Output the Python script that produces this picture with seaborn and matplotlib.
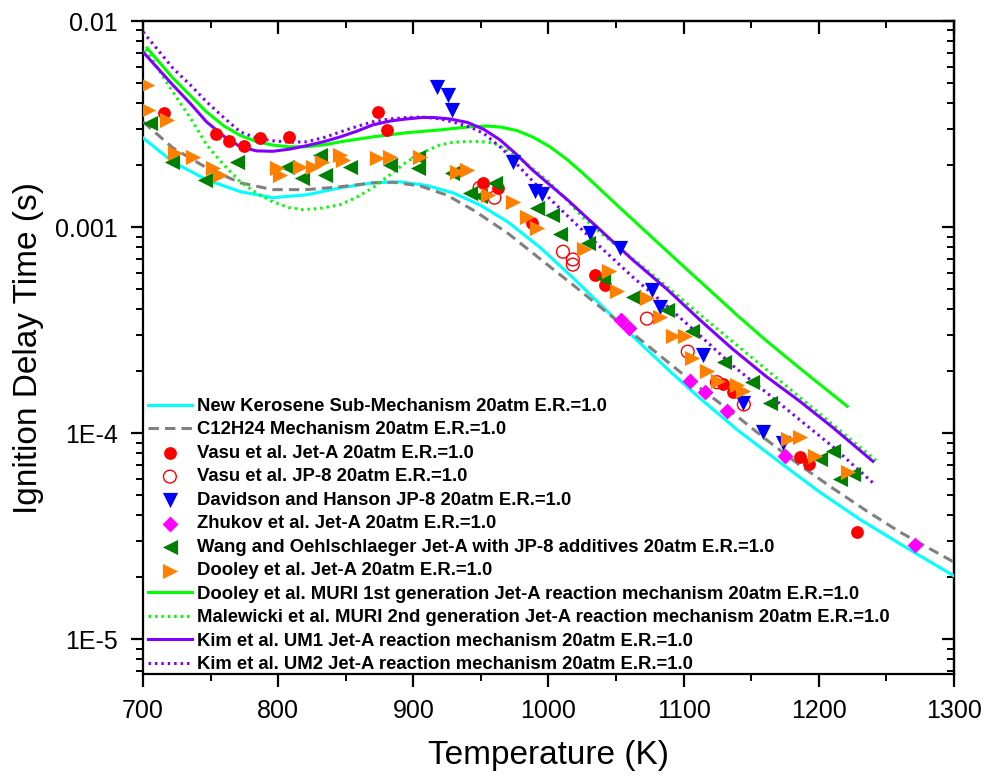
import numpy as np
import pandas as pd
import matplotlib
matplotlib.use("Agg")
import matplotlib.pyplot as plt
import matplotlib.ticker as mticker
import seaborn as sns

# ---------------- data ----------------
# model curves: temperature (K) and log10 of ignition delay time (s)
kero_T = [700, 722, 747, 772, 796, 821, 846, 870, 890, 910, 930, 950, 970, 994, 1018, 1043, 1068, 1092, 1112, 1140, 1171, 1200, 1230, 1265, 1300]
kero_log = [-2.567, -2.683, -2.770, -2.828, -2.857, -2.843, -2.809, -2.785, -2.780, -2.798, -2.835, -2.895, -2.975, -3.100, -3.245, -3.405, -3.565, -3.712, -3.830, -3.985, -4.140, -4.282, -4.416, -4.556, -4.692]

c12_T = [700, 722, 747, 772, 796, 821, 846, 870, 885, 905, 925, 945, 970, 994, 1020, 1050, 1080, 1112, 1140, 1161, 1185, 1210, 1235, 1260, 1300]
c12_log = [-2.489, -2.615, -2.712, -2.785, -2.818, -2.818, -2.804, -2.785, -2.782, -2.800, -2.845, -2.920, -3.030, -3.155, -3.290, -3.450, -3.610, -3.780, -3.920, -4.030, -4.150, -4.265, -4.375, -4.479, -4.625]

muri1_T = [703, 722, 747, 760, 772, 784, 796, 808, 821, 835, 846, 870, 895, 920, 942, 955, 965, 977, 989, 1001, 1013, 1025, 1038, 1051, 1075, 1099, 1120, 1140, 1161, 1186, 1221]
muri1_log = [-2.131, -2.276, -2.441, -2.510, -2.555, -2.585, -2.602, -2.610, -2.610, -2.600, -2.586, -2.562, -2.542, -2.528, -2.513, -2.510, -2.515, -2.532, -2.565, -2.610, -2.668, -2.736, -2.815, -2.895, -3.040, -3.185, -3.310, -3.430, -3.550, -3.685, -3.869]

muri2_T = [702, 722, 735, 747, 760, 772, 784, 796, 808, 818, 830, 846, 858, 870, 883, 895, 908, 920, 930, 940, 950, 959, 968, 977, 989, 1001, 1013, 1025, 1038, 1051, 1075, 1112, 1161, 1210, 1243]
muri2_log = [-2.137, -2.344, -2.470, -2.600, -2.700, -2.780, -2.835, -2.877, -2.905, -2.915, -2.910, -2.891, -2.855, -2.809, -2.745, -2.683, -2.635, -2.600, -2.588, -2.585, -2.585, -2.591, -2.620, -2.659, -2.720, -2.785, -2.865, -2.949, -3.025, -3.094, -3.220, -3.424, -3.690, -3.956, -4.136]

um1_T = [700, 722, 735, 747, 760, 772, 784, 796, 808, 821, 834, 846, 858, 870, 883, 895, 907, 915, 927, 940, 952, 964, 976, 988, 1001, 1014, 1026, 1038, 1062, 1088, 1112, 1136, 1161, 1185, 1210, 1240]
um1_log = [-2.150, -2.310, -2.400, -2.489, -2.560, -2.610, -2.630, -2.632, -2.622, -2.605, -2.585, -2.562, -2.535, -2.504, -2.485, -2.475, -2.468, -2.468, -2.475, -2.492, -2.525, -2.576, -2.645, -2.722, -2.795, -2.867, -2.940, -3.012, -3.157, -3.303, -3.450, -3.590, -3.724, -3.840, -3.970, -4.136]

um2_T = [700, 722, 735, 747, 760, 772, 784, 796, 808, 821, 834, 846, 858, 870, 883, 895, 907, 920, 932, 942, 952, 965, 976, 988, 1001, 1014, 1026, 1038, 1062, 1088, 1112, 1136, 1161, 1185, 1210, 1240]
um2_log = [-2.053, -2.228, -2.310, -2.392, -2.470, -2.538, -2.568, -2.581, -2.588, -2.586, -2.565, -2.538, -2.512, -2.489, -2.475, -2.468, -2.466, -2.475, -2.495, -2.515, -2.545, -2.615, -2.690, -2.775, -2.862, -2.945, -3.020, -3.094, -3.240, -3.385, -3.525, -3.670, -3.801, -3.930, -4.063, -4.240]

# experiments: temperature (K) and ignition delay time (s)
vasuA_T = [715.5, 754, 763.6, 774.7, 786.5, 808, 873.8, 880.5, 951.5, 962.6, 987.7, 1034.3, 1041.7, 1129, 1136.4, 1186, 1193, 1228]
vasuA_t = [3.58e-3, 2.84e-3, 2.62e-3, 2.48e-3, 2.71e-3, 2.74e-3, 3.62e-3, 2.96e-3, 1.64e-3, 1.55e-3, 1.05e-3, 5.89e-4, 5.27e-4, 1.73e-4, 1.58e-4, 7.66e-5, 7.08e-5, 3.32e-5]

vasuJP8_T = [949, 960, 1010.7, 1018, 1018, 1072.8, 1103, 1124.6, 1144.5]
vasuJP8_t = [1.55e-3, 1.39e-3, 7.6e-4, 6.97e-4, 6.58e-4, 3.6e-4, 2.49e-4, 1.77e-4, 1.38e-4]

dav_T = [917.5, 925.6, 928.6, 973.7, 990, 995, 1031, 1052.8, 1076.5, 1082.4, 1114.2, 1143.8, 1158.6, 1173.4]
dav_t = [4.79e-3, 4.38e-3, 3.71e-3, 2.08e-3, 1.50e-3, 1.45e-3, 9.4e-4, 7.96e-4, 4.98e-4, 4.12e-4, 2.39e-4, 1.40e-4, 1.02e-4, 8.95e-5]

zhu_T = [1053.6, 1059.5, 1104.6, 1115.7, 1132, 1174.9, 1271]
zhu_t = [3.56e-4, 3.26e-4, 1.79e-4, 1.58e-4, 1.28e-4, 7.74e-5, 2.87e-5]

wang_T = [705, 721.4, 745.9, 769.5, 806.5, 817.6, 831, 834.6, 853, 882.7, 903.4, 903.4, 928.6, 941.9, 949, 960.4,
          991.4, 1002.5, 1008.4, 1029, 1040, 1062.4, 1087.6, 1106, 1129.7, 1150.4, 1163.8, 1200.7, 1210.4, 1215.5, 1225]
wang_t = [3.21e-3, 2.08e-3, 1.70e-3, 2.08e-3, 1.96e-3, 1.74e-3, 2.25e-3, 1.80e-3, 1.96e-3, 2.01e-3, 2.19e-3, 1.94e-3, 1.84e-3, 1.47e-3, 1.41e-3, 1.64e-3,
          1.24e-3, 1.15e-3, 9.3e-4, 8.4e-4, 5.69e-4, 4.56e-4, 3.98e-4, 3.12e-4, 2.21e-4, 1.77e-4, 1.41e-4, 7.48e-5, 8.18e-5, 5.98e-5, 6.33e-5]

dool_T = [703, 703.7, 717.8, 723.7, 737, 751.8, 757, 799, 801, 816, 825.7, 832.4, 845.7, 848, 873, 882.7, 904.9, 932, 939.6,
          955, 973.7, 984, 991.4, 1026, 1044.7, 1050.6, 1072.8, 1082.4, 1092, 1101, 1106, 1117, 1125.3, 1139.3, 1143.8, 1177, 1186, 1197, 1221.4]
dool_t = [4.9e-3, 3.71e-3, 3.32e-3, 2.30e-3, 2.19e-3, 1.94e-3, 1.80e-3, 1.94e-3, 1.80e-3, 1.96e-3, 1.96e-3, 2.08e-3, 2.25e-3, 2.12e-3, 2.17e-3, 2.19e-3, 2.19e-3, 1.86e-3, 1.90e-3,
          1.44e-3, 1.33e-3, 1.12e-3, 9.96e-4, 7.87e-4, 6.10e-4, 4.88e-4, 4.51e-4, 3.65e-4, 2.95e-4, 2.95e-4, 2.33e-4, 2.0e-4, 1.79e-4, 1.71e-4, 1.60e-4, 9.35e-5, 9.57e-5, 7.74e-5, 6.47e-5]

labels = [
    "New Kerosene Sub-Mechanism 20atm E.R.=1.0",
    "C12H24 Mechanism 20atm E.R.=1.0",
    "Vasu et al. Jet-A 20atm E.R.=1.0",
    "Vasu et al. JP-8 20atm E.R.=1.0",
    "Davidson and Hanson JP-8 20atm E.R.=1.0",
    "Zhukov et al. Jet-A 20atm E.R.=1.0",
    "Wang and Oehlschlaeger Jet-A with JP-8 additives 20atm E.R.=1.0",
    "Dooley et al. Jet-A 20atm E.R.=1.0",
    "Dooley et al. MURI 1st generation Jet-A reaction mechanism 20atm E.R.=1.0",
    "Malewicki et al. MURI 2nd generation Jet-A reaction mechanism 20atm E.R.=1.0",
    "Kim et al. UM1 Jet-A reaction mechanism 20atm E.R.=1.0",
    "Kim et al. UM2 Jet-A reaction mechanism 20atm E.R.=1.0",
]

# ---------------- style ----------------
plt.rcParams['font.family'] = ['Liberation Sans', 'DejaVu Sans']
plt.rcParams['axes.linewidth'] = 1.6

fig = plt.figure(figsize=(9.87, 7.76), dpi=100)
ax = fig.add_axes([143 / 987, 1 - 674 / 776, (954 - 143) / 987, (674 - 21) / 776])

LW = 2.2
def line(T, logt, color, ls, lab):
    df = pd.DataFrame({"T": T, "t": np.power(10.0, logt)})
    sns.lineplot(data=df, x="T", y="t", ax=ax, color=color, lw=LW, linestyle=ls,
                 label=lab, estimator=None, sort=False, zorder=3)

def pts(T, t, marker, color, s, lab, filled=True):
    df = pd.DataFrame({"T": T, "t": t})
    if filled:
        sns.scatterplot(data=df, x="T", y="t", ax=ax, marker=marker, color=color,
                        s=s, linewidth=0, label=lab, zorder=4)
    else:
        sns.scatterplot(data=df, x="T", y="t", ax=ax, marker=marker, color=color,
                        facecolors='none', edgecolor=color, s=s, linewidth=1.0,
                        label=lab, zorder=4)

dash = (0, (3.4, 2.0))
dot = (0, (0.8, 1.3))

pts(vasuA_T, vasuA_t, 'o', '#FF0000', 85, labels[2])
pts(vasuJP8_T, vasuJP8_t, 'o', '#FF0000', 85, labels[3], filled=False)
pts(dav_T, dav_t, 'v', '#0000FF', 120, labels[4])
pts(zhu_T, zhu_t, 'D', '#FF00FF', 65, labels[5])
pts(wang_T, wang_t, '<', '#008000', 120, labels[6])
pts(dool_T, dool_t, '>', '#FF8000', 120, labels[7])

line(kero_T, kero_log, '#00FFFF', '-', labels[0])
line(c12_T, c12_log, '#808080', dash, labels[1])
line(muri1_T, muri1_log, '#00FF00', '-', labels[8])
line(muri2_T, muri2_log, '#00FF00', dot, labels[9])
line(um1_T, um1_log, '#8000FF', '-', labels[10])
line(um2_T, um2_log, '#8000FF', dot, labels[11])

ax.set_yscale('log')
ax.set_xlim(700, 1300)
ax.set_ylim(6.8e-6, 1e-2)

ax.xaxis.set_major_locator(mticker.MultipleLocator(100))
ax.xaxis.set_minor_locator(mticker.MultipleLocator(50))
ax.yaxis.set_major_locator(mticker.LogLocator(base=10, numticks=10))
ax.yaxis.set_minor_locator(mticker.LogLocator(base=10, subs=np.arange(2, 10), numticks=20))
ax.yaxis.set_minor_formatter(mticker.NullFormatter())

def yfmt(v, pos):
    e = int(round(np.log10(v)))
    if e >= -3:
        return f"{v:.{-e}f}"
    return f"1E{e}"
ax.yaxis.set_major_formatter(mticker.FuncFormatter(yfmt))

ax.tick_params(which='major', direction='out', length=9, width=1.6, labelsize=18, pad=9)
ax.tick_params(which='minor', direction='out', length=5, width=1.4)
ax.tick_params(top=False, right=False)

secx = ax.secondary_xaxis('top')
secx.xaxis.set_major_locator(mticker.MultipleLocator(100))
secx.xaxis.set_minor_locator(mticker.MultipleLocator(50))
secx.tick_params(which='major', direction='in', length=9, width=1.6, labeltop=False)
secx.tick_params(which='minor', direction='in', length=5, width=1.4)

secy = ax.secondary_yaxis('right')
secy.yaxis.set_major_locator(mticker.LogLocator(base=10, numticks=10))
secy.yaxis.set_minor_locator(mticker.LogLocator(base=10, subs=np.arange(2, 10), numticks=20))
secy.yaxis.set_minor_formatter(mticker.NullFormatter())
secy.tick_params(which='major', direction='in', length=9, width=1.6, labelright=False)
secy.tick_params(which='minor', direction='in', length=5, width=1.4)

ax.set_xlabel("Temperature (K)", fontsize=24, labelpad=12)
ax.set_ylabel("Ignition Delay Time (s)", fontsize=24, labelpad=8)

handles, labs = ax.get_legend_handles_labels()
hmap = dict(zip(labs, handles))
fs = 13.35
leg = ax.legend([hmap[l] for l in labels], labels, loc='upper left',
                bbox_to_anchor=(5 / 811, (674 - 398) / 653), frameon=False,
                borderpad=0, borderaxespad=0, handlelength=31.5 / fs,
                handletextpad=3.6 / fs, labelspacing=0.35,
                prop={'size': fs, 'weight': 'bold'})

fig.savefig("out.png", dpi=100)
